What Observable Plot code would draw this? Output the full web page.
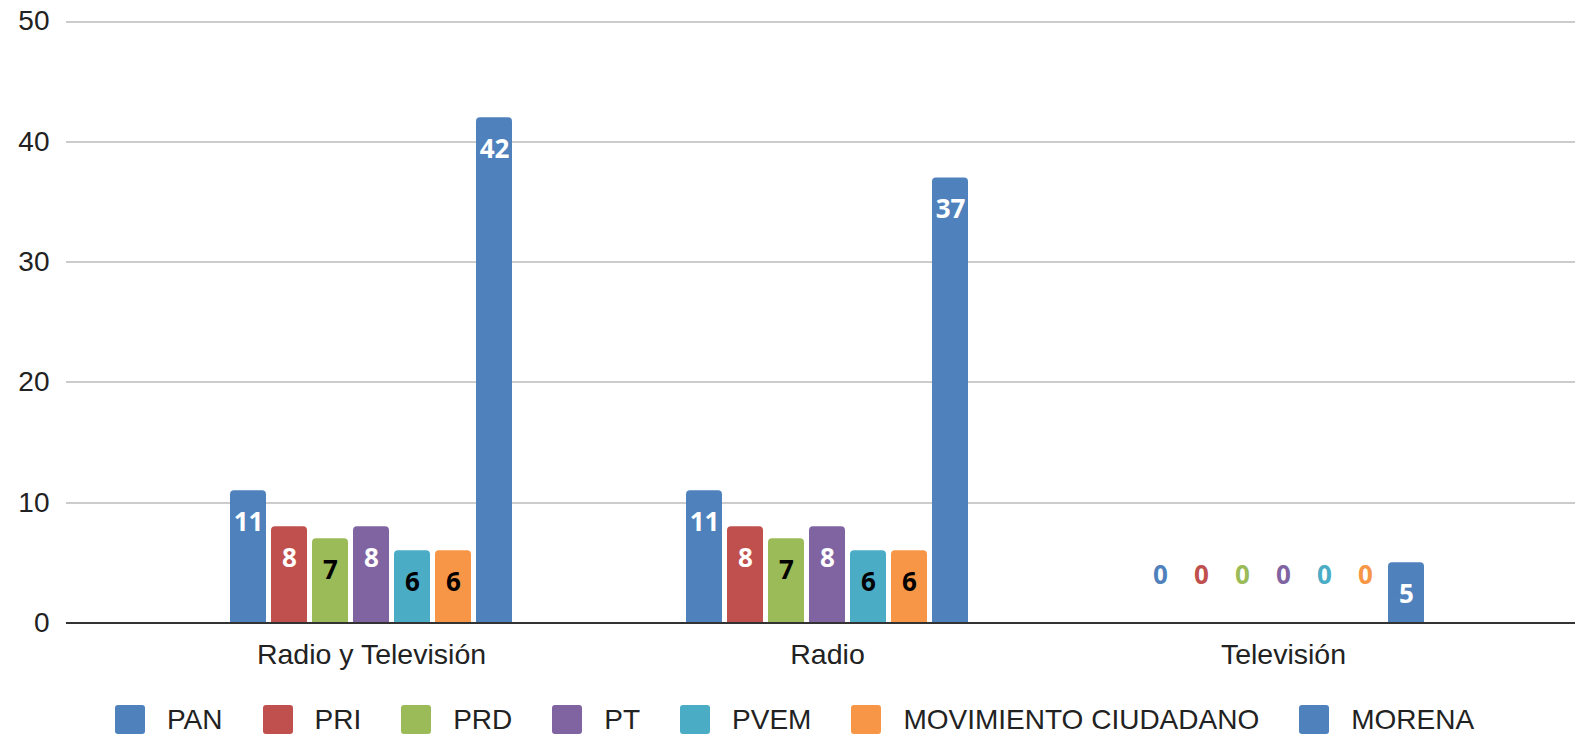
<!DOCTYPE html>
<html>
<head>
<meta charset="utf-8">
<script src="https://cdn.jsdelivr.net/npm/d3@7"></script>
<script src="https://cdn.jsdelivr.net/npm/@observablehq/plot@0.6"></script>
<style>
  html, body { margin: 0; padding: 0; background: #fff; }
  #chart svg { display: block; }
  .legend { display: flex; align-items: center; height: 29px; margin-top: 15px; padding-left: 115px;
            font-family: Arial, "Liberation Sans", sans-serif; font-size: 28px; color: #222; }
  .legend .item { display: flex; align-items: center; margin-right: 40px; }
  .legend .sw { width: 30px; height: 29px; border-radius: 3px; margin-right: 22px; }
</style>
</head>
<body>
<div id="chart"></div>
<script>
const categories = ["Radio y Televisión", "Radio", "Televisión"];
const parties = ["PAN", "PRI", "PRD", "PT", "PVEM", "MOVIMIENTO CIUDADANO", "MORENA"];
const partyColors = ["#4f81bd", "#c0504d", "#9bbb59", "#8064a2", "#4bacc6", "#f79646", "#4f81bd"];
const PAN = [11, 11, 0];
const PRI = [8, 8, 0];
const PRD = [7, 7, 0];
const PT = [8, 8, 0];
const PVEM = [6, 6, 0];
const MC = [6, 6, 0];
const MORENA = [42, 37, 5];
const yTicks = [0, 10, 20, 30, 40, 50];
const darkLabelParties = ["PRD", "PVEM", "MOVIMIENTO CIUDADANO"];

const series = [PAN, PRI, PRD, PT, PVEM, MC, MORENA];
const data = parties.flatMap((p, i) => categories.map((c, j) => ({category: c, party: p, value: series[i][j]})));
const pos = data.filter(d => d.value > 0);
const zeros = data.filter(d => d.value === 0);
const labelFont = '"Open Sans", Roboto, Arial, sans-serif';

const chart = Plot.plot({
  width: 1575,
  height: 690,
  marginLeft: 142,
  marginRight: 64,
  marginTop: 21,
  marginBottom: 67.5,
  style: {fontFamily: 'Arial, "Liberation Sans", sans-serif', background: "#fff", color: "#222"},
  fx: {domain: categories, padding: 0, label: null},
  x: {domain: parties, axis: null, paddingInner: 0.126, paddingOuter: 2.0},
  y: {domain: [0, 50], axis: null},
  color: {domain: parties, range: partyColors},
  marks: [
    Plot.ruleY(yTicks.filter(t => t > 0), {stroke: "#cccccc", strokeWidth: 2, insetLeft: -77, insetRight: -64, shapeRendering: "crispEdges"}),
    Plot.barY(data, {fx: "category", x: "party", y: "value", fill: "party", rx: 4}),
    Plot.barY(pos, {fx: "category", x: "party", y: d => d.value / 2, fill: "party"}),
    Plot.ruleY([0], {stroke: "#333333", strokeWidth: 2, insetLeft: -77, insetRight: -64, shapeRendering: "crispEdges"}),
    Plot.axisY({ticks: yTicks, tickSize: 0, tickPadding: 94, fontSize: 28, label: null}),
    Plot.axisFx({anchor: "bottom", tickSize: 0, tickPadding: 20.5, fontSize: 28.5, label: null}),
    Plot.text(pos.filter(d => !darkLabelParties.includes(d.party)), {
      fx: "category", x: "party", y: "value", text: d => String(d.value),
      dy: 32, fill: "#fff", fontWeight: "bold", fontSize: 26, fontFamily: labelFont
    }),
    Plot.text(pos.filter(d => darkLabelParties.includes(d.party)), {
      fx: "category", x: "party", y: "value", text: d => String(d.value),
      dy: 32, fill: "#000", fontWeight: "bold", fontSize: 26, fontFamily: labelFont
    }),
    Plot.text(zeros, {
      fx: "category", x: "party", y: "value", text: d => String(d.value),
      dy: -47.5, fill: "party", fontWeight: "bold", fontSize: 26, fontFamily: labelFont
    })
  ]
});
document.getElementById("chart").appendChild(chart);

const legend = document.createElement("div");
legend.className = "legend";
parties.forEach((p, i) => {
  const item = document.createElement("div");
  item.className = "item";
  const sw = document.createElement("span");
  sw.className = "sw";
  sw.style.background = partyColors[i];
  const t = document.createElement("span");
  t.textContent = p;
  item.appendChild(sw);
  item.appendChild(t);
  legend.appendChild(item);
});
document.getElementById("chart").appendChild(legend);
</script>
</body>
</html>
